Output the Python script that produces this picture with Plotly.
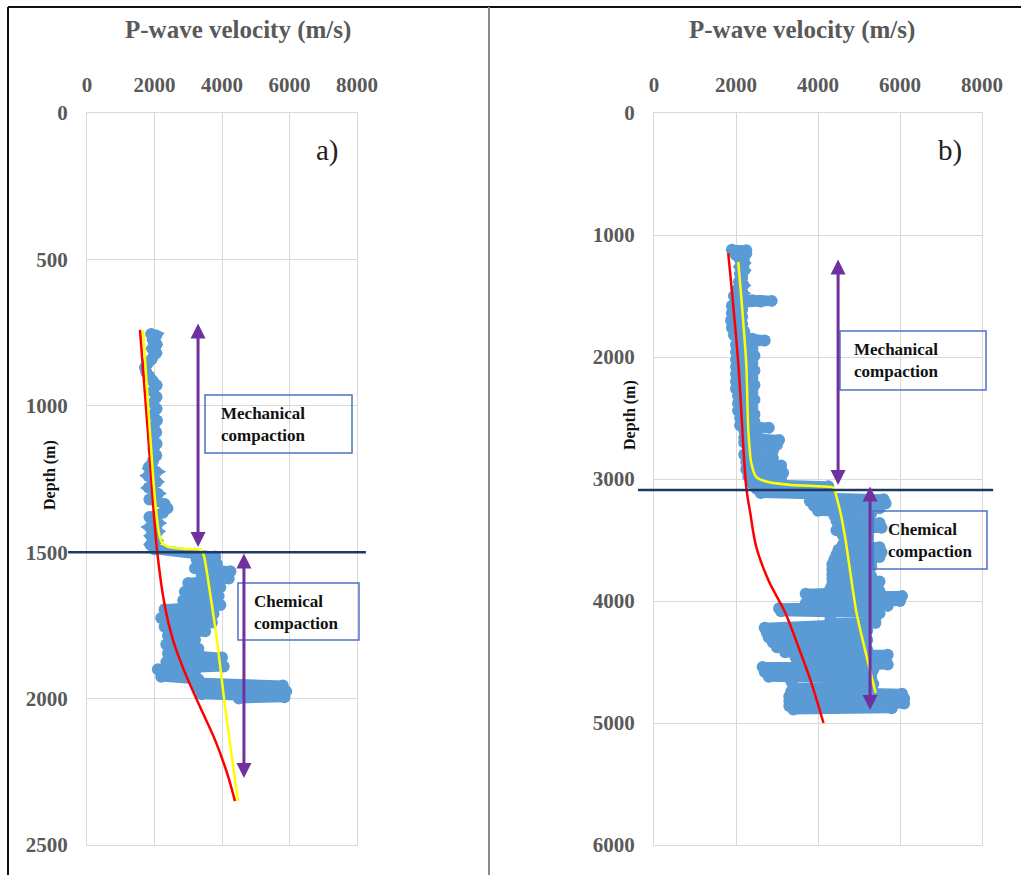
import plotly.graph_objects as go

# ---------------------------------------------------------------
# Well A: sonic log (depth m, Vp m/s) and fitted trends
# ---------------------------------------------------------------
depth_a = [755, 760, 775, 790, 805, 820, 840, 855, 870, 885, 900, 915, 930, 950, 970,
           990, 1010, 1030, 1050, 1070, 1090, 1110, 1130, 1150, 1170, 1190, 1210, 1225,
           1240, 1260, 1280, 1300, 1320, 1335, 1350, 1365, 1380, 1400, 1415, 1430, 1445,
           1460, 1475, 1490,
           1505, 1515, 1525, 1540, 1555, 1565, 1580, 1590, 1605, 1620, 1635, 1650, 1665,
           1680, 1695, 1710, 1725, 1740, 1755, 1770, 1785, 1800, 1815, 1830, 1845, 1860,
           1875, 1890, 1900, 1912, 1925, 1935, 1945, 1955, 1965, 1975, 1985, 1995, 2000]
vp_a = [1900, 2050, 1950, 2060, 1930, 2050, 1920, 1800, 1720, 1760, 1850, 1950, 2060, 1950, 2060,
        1960, 2060, 1960, 2070, 1970, 2050, 1960, 2060, 1970, 2050, 1950, 1830, 2050,
        1820, 2060, 1830, 2100, 1850, 2300, 2380, 2250, 1850, 2100, 1870, 2080, 1900,
        2050, 1880, 2000,
        3200, 3800, 3250, 3850, 3200, 4250, 3400, 4200, 3000, 3950, 2900, 3900, 2850,
        3950, 2300, 3750, 2200, 3700, 2300, 3500, 2400, 3200, 2350, 3300, 2400, 4000,
        2350, 4050, 2100, 3200, 2200, 3300, 3200, 5800, 3300, 5900, 3400, 5850, 4500]

nct_depth_a = [741, 1093, 1492, 1687, 1800, 1912, 2028, 2141, 2254, 2350]
nct_vp_a = [1570, 1807, 2074, 2311, 2548, 2904, 3348, 3793, 4148, 4385]

fit_depth_a = [741, 1093, 1322, 1434, 1468, 1482, 1489, 1492, 1513, 1571, 1800, 2028, 2350]
fit_vp_a = [1660, 1867, 2015, 2133, 2222, 2400, 2904, 3378, 3467, 3556, 3852, 4089, 4474]

# ---------------------------------------------------------------
# Well B: sonic log (depth m, Vp m/s) and fitted trends
# ---------------------------------------------------------------
depth_b = [1120, 1125, 1140, 1150, 1165, 1180, 1200, 1230, 1260, 1290, 1320, 1350, 1380,
           1410, 1440, 1470, 1500, 1520, 1535, 1540, 1545, 1555, 1580, 1610, 1640, 1670,
           1700, 1730, 1760, 1790, 1820, 1850, 1865, 1880, 1900, 1930, 1960, 1990, 2020,
           2050, 2080, 2110, 2140, 2170, 2200, 2230, 2260, 2290, 2320, 2350, 2380, 2410,
           2440, 2470, 2500, 2530, 2560, 2580, 2600, 2630, 2660, 2680, 2700, 2720, 2740,
           2770, 2800, 2830, 2860, 2890, 2920, 2950, 2980, 3010, 3040, 3060,
           3080, 3100, 3115, 3130, 3150, 3165, 3180, 3200, 3220, 3240, 3260, 3280, 3300,
           3320, 3340, 3360, 3380, 3400, 3420, 3440, 3460, 3480, 3500, 3520, 3540, 3560,
           3580, 3600, 3620, 3640, 3660, 3680, 3700, 3720, 3740, 3760, 3780, 3800, 3820,
           3840, 3860, 3880, 3900, 3920, 3940, 3960, 3980, 4000, 4020, 4040, 4060, 4075,
           4085, 4100, 4120, 4140, 4160, 4180, 4200, 4220, 4240, 4260, 4280, 4300, 4320,
           4340, 4360, 4380, 4400, 4420, 4440, 4460, 4480, 4500, 4520, 4540, 4560, 4580,
           4600, 4620, 4640, 4660, 4680, 4700, 4720, 4740, 4760, 4780, 4800, 4820, 4840,
           4860, 4880, 4890]
vp_b = [1900, 2250, 1950, 2250, 2000, 2200, 2100, 2200, 2100, 2200, 2100, 2150, 2080,
        2180, 2050, 2150, 1950, 2100, 2400, 2870, 2600, 2100, 1900, 2150, 1900, 2150,
        1880, 2150, 1900, 2200, 1950, 2400, 2700, 2300, 2000, 2400, 2000, 2450, 2000,
        2400, 2000, 2450, 2000, 2400, 2000, 2450, 2000, 2400, 2050, 2450, 2050, 2400,
        2050, 2450, 2100, 2450, 2100, 2800, 2200, 2500, 2200, 3050, 2200, 3000, 2300,
        2900, 2200, 2900, 2250, 3100, 2250, 3150, 2300, 3100, 2400, 4250,
        2500, 4200, 2600, 4300, 3800, 5600, 3800, 5650, 3900, 5500, 4000, 5300, 4400,
        5200, 4450, 5500, 4500, 5550, 4450, 5000, 4600, 5200, 4700, 5100, 4600, 5500,
        4500, 5550, 4450, 5500, 4400, 5300, 4350, 5300, 4350, 5200, 4350, 5300, 4350,
        5500, 4350, 5450, 4300, 5500, 3700, 6050, 3800, 6000, 3700, 5700, 3050, 4100,
        3100, 5500, 4300, 5400, 4300, 5400, 4300, 2700, 5200, 2750, 5000, 2800, 5200,
        2900, 5100, 3000, 5200, 3200, 5700, 3450, 5650, 3500, 5700, 2650, 5350, 2700,
        5300, 2800, 5300, 3350, 5350, 3400, 5300, 3350, 6050, 3300, 6100, 3300, 6100,
        3300, 5800, 3400]

nct_depth_b = [1148, 2050, 3066, 3279, 3557, 3828, 4098, 4377, 4648, 5000]
nct_vp_b = [1810, 2055, 2250, 2348, 2495, 2788, 3204, 3522, 3816, 4134]

fit_depth_b = [1221, 1508, 2050, 2598, 2869, 2984, 3025, 3049, 3066, 3074, 3279, 3500, 4098, 4754]
fit_vp_b = [2055, 2128, 2250, 2300, 2373, 2495, 2788, 3351, 4330, 4378, 4550, 4672, 4941, 5406]

# Compaction boundaries and arrow extents (velocity, top depth, bottom depth)
boundary_a = 1500
boundary_b = 3090
mech_arrow_a = (3290, 714, 1482)
chem_arrow_a = (4650, 1499, 2271)
mech_arrow_b = (4490, 1189, 3049)
chem_arrow_b = (5270, 3049, 4894)

vel_ticks = [0, 2000, 4000, 6000, 8000]
depth_ticks_a = [0, 500, 1000, 1500, 2000, 2500]
depth_ticks_b = [0, 1000, 2000, 3000, 4000, 5000, 6000]

# ---------------------------------------------------------------
W, H = 1021, 875
SERIF = "Liberation Serif"
GRAY = "#595959"
GRID = "#D9D9D9"
BLUE = "#5B9BD5"
PURPLE = "#7030A0"
NAVY = "#1F3864"
BOX = "#4F74C4"


def fx(p):
    return p / W


def fy(p):
    return 1 - p / H


fig = go.Figure()

for xa, ya, d, v in [("x", "y", depth_a, vp_a), ("x2", "y2", depth_b, vp_b)]:
    fig.add_trace(go.Scatter(x=v, y=d, xaxis=xa, yaxis=ya, mode="lines+markers",
                             line=dict(color=BLUE, width=10),
                             marker=dict(color=BLUE, size=12), showlegend=False))

for xa, ya, d, v in [("x", "y", nct_depth_a, nct_vp_a), ("x2", "y2", nct_depth_b, nct_vp_b)]:
    fig.add_trace(go.Scatter(x=v, y=d, xaxis=xa, yaxis=ya, mode="lines",
                             line=dict(color="#FF0000", width=2.5, shape="spline"),
                             showlegend=False))

for xa, ya, d, v in [("x", "y", fit_depth_a, fit_vp_a), ("x2", "y2", fit_depth_b, fit_vp_b)]:
    fig.add_trace(go.Scatter(x=v, y=d, xaxis=xa, yaxis=ya, mode="lines",
                             line=dict(color="#FFFF00", width=2.5, shape="spline",
                                       smoothing=0.6),
                             showlegend=False))

tickfont = dict(family=SERIF, size=21, color=GRAY, weight="bold")
xcommon = dict(range=[0, 8000], tickvals=vel_ticks, side="top", showgrid=True,
               gridcolor=GRID, gridwidth=1, showline=True, linecolor=GRID, mirror=True,
               zeroline=False, ticks="", tickfont=tickfont, ticklabelstandoff=12,
               fixedrange=True, automargin=False)
ycommon = dict(showgrid=True, gridcolor=GRID, gridwidth=1, showline=True, linecolor=GRID,
               mirror=True, zeroline=False, ticks="", tickfont=tickfont,
               ticklabelstandoff=14, fixedrange=True, automargin=False,
               domain=[fy(845), fy(113)])

fig.update_layout(
    width=W, height=H,
    margin=dict(l=0, r=0, t=0, b=0, pad=0, autoexpand=False),
    paper_bgcolor="white", plot_bgcolor="white",
    xaxis=dict(domain=[fx(87), fx(357)], anchor="y", **xcommon),
    yaxis=dict(range=[2500, 0], tickvals=depth_ticks_a, anchor="x", **ycommon),
    xaxis2=dict(domain=[fx(654), fx(982)], anchor="y2", **xcommon),
    yaxis2=dict(range=[6000, 0], tickvals=depth_ticks_b, anchor="x2", **ycommon),
)

shapes = []
# frame and panel separator
shapes.append(dict(type="line", xref="paper", yref="paper", x0=fx(8), x1=1, y0=fy(7), y1=fy(7),
                   line=dict(color="#111111", width=2)))
shapes.append(dict(type="line", xref="paper", yref="paper", x0=fx(8), x1=fx(8), y0=fy(7), y1=0,
                   line=dict(color="#111111", width=2)))
shapes.append(dict(type="line", xref="paper", yref="paper", x0=fx(489), x1=fx(489), y0=fy(7), y1=0,
                   line=dict(color="#8C8C8C", width=2)))

# compaction boundaries
shapes.append(dict(type="line", xref="x domain", yref="y", x0=-0.07, x1=1.033,
                   y0=boundary_a, y1=boundary_a, line=dict(color=NAVY, width=2.5), layer="above"))
shapes.append(dict(type="line", xref="x2 domain", yref="y2", x0=-0.049, x1=1.034,
                   y0=boundary_b, y1=boundary_b, line=dict(color=NAVY, width=2.5), layer="above"))

# label boxes
for x0, x1, y0, y1 in [(205, 352, 395, 453), (238, 359, 583, 640),
                       (840, 986, 331, 390), (873, 987, 511, 569)]:
    shapes.append(dict(type="rect", xref="paper", yref="paper", x0=fx(x0), x1=fx(x1),
                       y0=fy(y1), y1=fy(y0), line=dict(color=BOX, width=1.5),
                       fillcolor="rgba(0,0,0,0)", layer="above"))
fig.update_layout(shapes=shapes)

ann = []
# double-headed arrows
for xr, yr, (v, d0, d1) in [("x", "y", mech_arrow_a), ("x", "y", chem_arrow_a),
                            ("x2", "y2", mech_arrow_b), ("x2", "y2", chem_arrow_b)]:
    ann.append(dict(x=v, y=d1, ax=v, ay=d0, xref=xr, yref=yr, axref=xr, ayref=yr,
                    text="", showarrow=True, arrowside="end+start", arrowhead=2,
                    startarrowhead=2, arrowsize=1, startarrowsize=1, arrowwidth=3,
                    arrowcolor=PURPLE, standoff=0, startstandoff=0))

boxfont = dict(family=SERIF, size=17, color="#111111", weight="bold")
for left, cy, txt in [(219, 424, "Mechanical<br>compaction"), (252, 612, "Chemical<br>compaction"),
                      (852, 360, "Mechanical<br>compaction"), (886, 540, "Chemical<br>compaction")]:
    ann.append(dict(x=fx(left), y=fy(cy), xref="paper", yref="paper", xanchor="left",
                    yanchor="middle", align="left", text=txt, showarrow=False, font=boxfont))

# axis titles
titlefont = dict(family=SERIF, size=25, color=GRAY, weight="bold")
for cx in (238, 802):
    ann.append(dict(x=fx(cx), y=fy(30), xref="paper", yref="paper", text="P-wave velocity (m/s)",
                    showarrow=False, font=titlefont, xanchor="center", yanchor="middle"))
depthfont = dict(family=SERIF, size=16, color="#111111", weight="bold")
for cx, cy in [(50, 475), (630, 415)]:
    ann.append(dict(x=fx(cx), y=fy(cy), xref="paper", yref="paper", text="Depth (m)",
                    textangle=-90, showarrow=False, font=depthfont,
                    xanchor="center", yanchor="middle"))

# panel letters
for cx, cy, t in [(327, 150, "a)"), (950, 150, "b)")]:
    ann.append(dict(x=fx(cx), y=fy(cy), xref="paper", yref="paper", text=t, showarrow=False,
                    font=dict(family=SERIF, size=29, color="#222222"),
                    xanchor="center", yanchor="middle"))

fig.update_layout(annotations=ann)

fig.write_html("out.html")
